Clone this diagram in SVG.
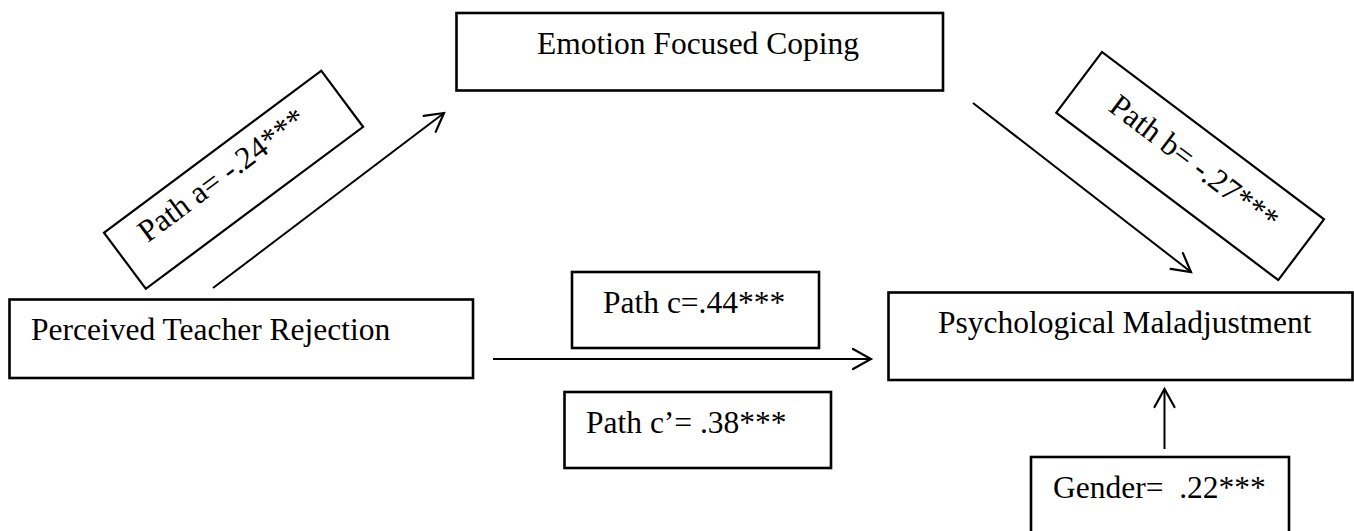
<svg xmlns="http://www.w3.org/2000/svg" width="1354" height="531" viewBox="0 0 1354 531">
  <style>
    .box { fill: #ffffff; stroke: #000000; stroke-width: 2.6; }
    .rbox { fill: #ffffff; stroke: #000000; stroke-width: 2.2; }
    .lbl { font-family: "Liberation Serif", "Times New Roman", serif; font-size: 31.5px; fill: #000000; white-space: pre; }
    .conn { fill: none; stroke: #000000; stroke-width: 2; marker-end: url(#arrow); }
  </style>
  <defs>
    <marker id="arrow" markerUnits="userSpaceOnUse" markerWidth="24" markerHeight="26" viewBox="0 0 24 26" refX="20" refY="13" orient="auto">
      <path d="M2,3 L20,13 L2,23" fill="none" stroke="#000000" stroke-width="2.2" stroke-linecap="round" stroke-linejoin="miter"/>
    </marker>
  </defs>
  <rect width="1354" height="531" fill="#ffffff"/>

  <g id="connectors">
    <line class="conn" x1="213" y1="288" x2="444" y2="113"/>
    <line class="conn" x1="973" y1="103" x2="1191" y2="272"/>
    <line class="conn" x1="493" y1="359" x2="871" y2="359"/>
    <line class="conn" x1="1164.5" y1="449" x2="1164.5" y2="389"/>
  </g>

  <g id="node-efc">
    <rect class="box" x="456.5" y="13" width="486.5" height="77.5"/>
    <text class="lbl" x="537" y="54">Emotion Focused Coping</text>
  </g>

  <g id="node-ptr">
    <rect class="box" x="9.5" y="299.5" width="463.5" height="78.5"/>
    <text class="lbl" x="31" y="340">Perceived Teacher Rejection</text>
  </g>

  <g id="node-pm">
    <rect class="box" x="888.5" y="292.5" width="464" height="87.5"/>
    <text class="lbl" x="938" y="332.5">Psychological Maladjustment</text>
  </g>

  <g id="label-path-a" transform="translate(104,232.7) rotate(-36.7)">
    <rect class="rbox" x="0" y="0" width="271" height="70"/>
    <text class="lbl" x="28.5" y="34.4">Path a= -.24***</text>
  </g>

  <g id="label-path-b" transform="translate(1102,52) rotate(37)">
    <rect class="rbox" x="0" y="0" width="278" height="76"/>
    <text class="lbl" x="39" y="43">Path b= -.27***</text>
  </g>

  <g id="label-path-c">
    <rect class="box" x="572" y="272" width="247" height="76"/>
    <text class="lbl" x="603" y="313">Path c=.44***</text>
  </g>

  <g id="label-path-c-prime">
    <rect class="box" x="564.5" y="392" width="266.5" height="76"/>
    <text class="lbl" x="586" y="433">Path c’= .38***</text>
  </g>

  <g id="node-gender">
    <rect class="box" x="1031" y="457" width="258" height="90"/>
    <text class="lbl" x="1053" y="498">Gender=  .22***</text>
  </g>
</svg>
